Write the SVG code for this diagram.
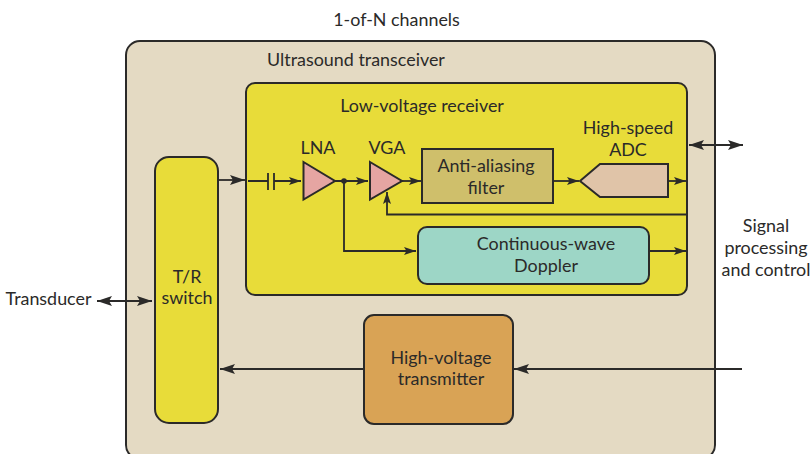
<svg xmlns="http://www.w3.org/2000/svg" width="810" height="454" viewBox="0 0 810 454">
<style>
text{font-family:"Lato","Liberation Sans",sans-serif;font-size:17.9px;fill:#2b2a29;text-anchor:middle}
.b{stroke:#2b2a29;stroke-width:2}
.w{fill:none;stroke:#2b2a29;stroke-width:1.8}
</style>
<defs>
<marker id="a" markerUnits="userSpaceOnUse" markerWidth="12" markerHeight="10" refX="12" refY="4" orient="auto"><path d="M0 0L12 4L0 8L2.500 4Z" fill="#2b2a29"/></marker>
<marker id="A" markerUnits="userSpaceOnUse" markerWidth="16" markerHeight="12" refX="15" refY="5" orient="auto-start-reverse"><path d="M0 0L15 5L0 10L3 5Z" fill="#2b2a29"/></marker>
</defs>
<rect width="810" height="454" fill="#fff"/>
<g id="transceiver"><rect class="b" x="126" y="41" width="589" height="418" rx="14" fill="#e4dac3"/><text x="356" y="65.500">Ultrasound transceiver</text></g>
<g id="receiver"><rect class="b" x="246" y="83" width="441" height="212" rx="9" fill="#e8dc39"/><text x="422" y="112">Low-voltage receiver</text></g>
<g id="switch"><rect class="b" x="155" y="157" width="63" height="266" rx="14" fill="#e8dc39"/><text x="187" y="283">T/R</text><text x="187" y="304">switch</text></g>
<g id="lna"><path class="b" d="M303.500 162L335 181L303.500 199.500Z" fill="#e5a5a2"/><text x="318" y="153.500">LNA</text></g>
<g id="vga"><path class="b" d="M370 162L402 181L370 199.500Z" fill="#e5a5a2"/><text x="387" y="153.500">VGA</text></g>
<g id="filter"><rect class="b" x="422" y="149" width="131" height="54" fill="#cfbf6b"/><text x="486" y="172">Anti-aliasing</text><text x="486" y="194">filter</text></g>
<g id="adc"><path class="b" d="M580 181L600 164L668 164L668 197L600 197Z" fill="#e0c4a8"/><text x="628" y="134">High-speed</text><text x="628" y="156">ADC</text></g>
<g id="doppler"><rect class="b" x="418" y="227" width="231" height="57" rx="9" fill="#9dd6c6"/><text x="546" y="249.500">Continuous-wave</text><text x="546" y="272">Doppler</text></g>
<g id="transmitter"><rect class="b" x="364" y="315" width="149" height="109" rx="10" fill="#d9a355"/><text x="441" y="364">High-voltage</text><text x="441" y="385">transmitter</text></g>
<g id="connectors">
<path class="w" d="M218 180H245" marker-end="url(#A)"/>
<path class="w" d="M248 181H268M274 181H301" marker-end="url(#a)"/>
<path class="w" d="M268 173V190M274 173V190" stroke-width="2"/>
<path class="w" d="M335 181H368" marker-end="url(#a)"/>
<circle cx="344" cy="181" r="2.800" fill="#2b2a29"/>
<path class="w" d="M344 181V251H416" marker-end="url(#a)"/>
<path class="w" d="M402 181H421" marker-end="url(#a)"/>
<path class="w" d="M553 181H579" marker-end="url(#a)"/>
<path class="w" d="M668 181H686" marker-end="url(#a)"/>
<path class="w" d="M649 251H686" marker-end="url(#a)"/>
<path class="w" d="M687 214.500H387V192" marker-end="url(#a)"/>
<path class="w" d="M689 145H743" marker-start="url(#A)" marker-end="url(#A)"/>
<path class="w" d="M97 301H152" marker-start="url(#A)" marker-end="url(#A)"/>
<path class="w" d="M742 369H514" marker-end="url(#A)"/>
<path class="w" d="M364 369H220" marker-end="url(#A)"/>
</g>
<g id="labels">
<text x="396.500" y="26">1-of-N channels</text>
<text x="48.500" y="305">Transducer</text>
<text x="766" y="232">Signal</text>
<text x="766" y="254">processing</text>
<text x="766" y="276">and control</text>
</g>
</svg>
